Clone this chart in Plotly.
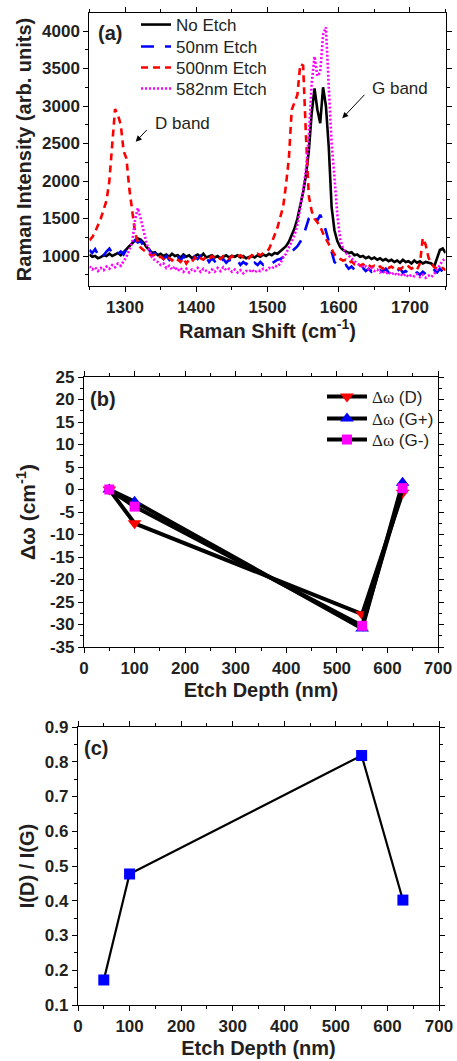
import plotly.graph_objects as go

W, H = 457, 1061

# ---------------- Panel (a): Raman spectra ----------------
raman_shift = list(range(1250, 1751, 4))  # cm^-1

no_etch = [
    1020, 990, 1000, 970, 985, 1010, 1000, 1030, 1000, 1020,
    1040, 1010, 1050, 1080, 1120, 1170, 1210, 1235, 1220, 1180,
    1120, 1080, 1040, 1050, 1010, 1030, 1000, 1020, 990, 1030,
    1000, 1010, 980, 1020, 990, 1010, 970, 1000, 1020, 990,
    1030, 980, 1000, 1010, 980, 1000, 970, 990, 1010, 980,
    1000, 990, 1010, 980, 1000, 970, 990, 1000, 980, 1010,
    990, 1020, 1000, 1030, 1010, 1040, 1030, 1060, 1090, 1130,
    1190, 1280, 1370, 1500, 1680, 1850, 2080, 2400, 2900, 3236,
    2950, 2770, 3250, 3000, 2450, 1650, 1340, 1200, 1120, 1080,
    1060, 1040, 1050, 1010, 1020, 990, 1000, 970, 990, 960,
    980, 950, 970, 940, 960, 930, 950, 920, 940, 910,
    950, 920, 930, 900, 940, 910, 930, 900, 920, 910,
    900, 860, 960, 1080, 1100, 1040,
]

etch_50nm = [
    1080, 1040, 1090, 1020, 1070, 1010, 1060, 1100, 1040, 1080,
    1030, 1060, 1020, 1090, 1130, 1160, 1210, 1180, 1200, 1120,
    1060, 1090, 1010, 1040, 980, 1020, 960, 1000, 950, 1010,
    960, 990, 940, 1000, 950, 980, 930, 990, 960, 1000,
    940, 980, 920, 970, 930, 980, 920, 960, 910, 950,
    930, 900, 940, 880, 920, 890, 930, 870, 910, 880,
    920, 880, 900, 870, 900, 930, 950, 960, 990, 1010,
    1040, 1060, 1090, 1130, 1190, 1260, 1380, 1500, 1540, 1560,
    1470, 1550, 1470, 1330, 1180, 1030, 920, 890, 870, 850,
    880, 830, 860, 820, 850, 810, 840, 800, 830, 790,
    820, 780, 810, 790, 830, 780, 810, 770, 800, 830,
    780, 800, 760, 790, 760, 780, 750, 790, 760, 800,
    770, 810, 780, 830, 790, 820,
]

etch_500nm = [
    1210, 1250, 1320, 1400, 1500, 1620, 1740, 2000, 2450, 2960,
    2880, 2750, 2400, 2300, 1900, 1580, 1320, 1180, 1110, 1080,
    1050, 1030, 1000, 1020, 980, 990, 960, 1000, 970, 940,
    980, 950, 920, 970, 900, 950, 920, 980, 940, 970,
    950, 990, 960, 1000, 970, 990, 960, 1000, 980, 960,
    1000, 970, 990, 1010, 980, 1000, 970, 1010, 1000, 1030,
    1010, 1040, 1060, 1090, 1180, 1270, 1380, 1520, 1660, 1950,
    2300, 2950, 3060, 3150, 3560, 3540, 2600, 1800, 1600, 1500,
    1450, 1390, 1300, 1230, 1140, 1070, 1020, 980, 960, 940,
    950, 910, 930, 890, 910, 870, 890, 860, 880, 850,
    870, 840, 860, 830, 870, 840, 860, 830, 850, 820,
    850, 830, 860, 830, 850, 820, 900, 1240, 1150, 980,
    900, 850, 830, 820, 840, 810,
]

etch_582nm = [
    860, 820, 850, 800, 840, 810, 860, 830, 880, 850,
    900, 870, 930, 990, 1080, 1180, 1480, 1640, 1500, 1320,
    1180, 1060, 980, 940, 920, 880, 900, 840, 870, 820,
    860, 800, 840, 790, 830, 780, 820, 800, 840, 790,
    830, 800, 780, 820, 790, 840, 800, 850, 810, 830,
    790, 820, 780, 810, 770, 800, 790, 820, 780, 810,
    800, 830, 810, 840, 830, 870, 860, 900, 980, 1030,
    1110, 1190, 1280, 1420, 1620, 1870, 2150, 2600, 3300, 3660,
    3400, 3450, 3950, 4050, 3250, 2500, 2050, 1550, 1230, 1100,
    1040, 1000, 970, 930, 900, 880, 850, 860, 820, 840,
    800, 820, 780, 800, 760, 790, 750, 780, 740, 770,
    730, 760, 720, 750, 730, 760, 720, 750, 710, 740,
    720, 760, 820, 870, 940, 970,
]

# ---------------- Panel (b): frequency shifts ----------------
etch_depth = [50, 100, 550, 630]  # nm
dw_D = [0, -7.5, -27.7, -0.7]
dw_Gplus = [0, -2.7, -30.9, 1.5]
dw_Gminus = [0, -3.8, -30.3, 0.3]
dw_ticks = [-35, -30, -25, -20, -15, -10, -5, 0, 5, 10, 15, 20, 25]

# ---------------- Panel (c): intensity ratio ----------------
id_over_ig = [0.172, 0.477, 0.818, 0.402]

FONT = "Liberation Sans"
SERIF = "Liberation Serif"
INK = "#231f20"


def px_x(p):
    return p / W


def px_y(p):
    return 1 - p / H


def axis(domain, rng, dtick, minor_dtick, anchor, title, standoff, title_size=20, **kw):
    d = dict(
        domain=domain, range=rng, anchor=anchor, dtick=dtick,
        showline=True, linecolor="black", linewidth=1.2, mirror="allticks",
        ticks="outside", ticklen=5, tickwidth=1.2, tickcolor="black",
        minor=dict(dtick=minor_dtick, ticks="outside", ticklen=3,
                   tickwidth=1, tickcolor="black"),
        showgrid=False, zeroline=False,
        tickfont=dict(family=FONT, size=17, color=INK, weight="bold"),
        title=dict(text=title, standoff=standoff,
                   font=dict(family=FONT, size=title_size, color=INK, weight="bold")),
    )
    d.update(kw)
    return d


def one_legend(left_px, row_px, size, itemwidth):
    return dict(x=px_x(left_px), y=px_y(row_px), xanchor="left", yanchor="middle",
                bgcolor="rgba(0,0,0,0)", borderwidth=0,
                font=dict(family=FONT, size=size, color=INK),
                itemwidth=itemwidth)


fig = go.Figure()

# (a)
fig.add_trace(go.Scatter(x=raman_shift, y=no_etch, name="No Etch", mode="lines",
                         line=dict(color="black", width=2.6), xaxis="x", yaxis="y",
                         legend="legend"))
fig.add_trace(go.Scatter(x=raman_shift, y=etch_50nm, name="50nm Etch", mode="lines",
                         line=dict(color="#0000ff", width=2.6, dash="13px,11px"),
                         xaxis="x", yaxis="y", legend="legend2"))
fig.add_trace(go.Scatter(x=raman_shift, y=etch_500nm, name="500nm Etch", mode="lines",
                         line=dict(color="#ff0000", width=2.6, dash="7px,5px"),
                         xaxis="x", yaxis="y", legend="legend3"))
fig.add_trace(go.Scatter(x=raman_shift, y=etch_582nm, name="582nm Etch", mode="lines",
                         line=dict(color="#ff00ff", width=2.6, dash="2px,2px"),
                         xaxis="x", yaxis="y", legend="legend4"))

# (b)
dw = f'<span style="font-family:{SERIF}">\u0394\u03c9</span>'
fig.add_trace(go.Scatter(x=etch_depth, y=dw_D, name=dw + " (D)", mode="lines+markers",
                         line=dict(color="black", width=4),
                         marker=dict(symbol="triangle-down", size=12, color="#ff0000"),
                         xaxis="x2", yaxis="y2", legend="legend5"))
fig.add_trace(go.Scatter(x=etch_depth, y=dw_Gplus, name=dw + " (G+)", mode="lines+markers",
                         line=dict(color="black", width=4),
                         marker=dict(symbol="triangle-up", size=12, color="#0000ff"),
                         xaxis="x2", yaxis="y2", legend="legend6"))
fig.add_trace(go.Scatter(x=etch_depth, y=dw_Gminus, name=dw + " (G-)", mode="lines+markers",
                         line=dict(color="black", width=4),
                         marker=dict(symbol="square", size=10, color="#ff00ff"),
                         xaxis="x2", yaxis="y2", legend="legend7"))

# (c)
fig.add_trace(go.Scatter(x=etch_depth, y=id_over_ig, name="I(D)/I(G)", mode="lines+markers",
                         line=dict(color="black", width=2.2),
                         marker=dict(symbol="square", size=11, color="#0000ff"),
                         xaxis="x3", yaxis="y3", showlegend=False))

layout = dict(
    width=W, height=H, template="none",
    margin=dict(l=0, r=0, t=0, b=0),
    paper_bgcolor="white", plot_bgcolor="white",
    font=dict(family=FONT, color=INK),
    xaxis=axis([px_x(89.4), px_x(445.6)], [1250, 1750], 100, 50, "y",
               "Raman Shift (cm<sup>-1</sup>)", 6),
    yaxis=axis([px_y(286), px_y(13)], [600, 4240], 500, 250, "x",
               "Raman Intensity (arb. units)", 5, tick0=0),
    xaxis2=axis([px_x(84), px_x(438)], [0, 700], 100, 50, "y2",
                "Etch Depth (nm)", 6),
    yaxis2=axis([px_y(647), px_y(377)], [-35, 25], None, 2.5, "x2",
                "\u0394\u03c9 (cm<sup>-1</sup>)", 8, title_size=21,
                tickmode="array", tickvals=dw_ticks,
                ticktext=[str(v) for v in dw_ticks]),
    xaxis3=axis([px_x(78), px_x(439)], [0, 700], 100, 50, "y3",
                "Etch Depth (nm)", 6),
    yaxis3=axis([px_y(1005), px_y(727)], [0.1, 0.9], 0.1, 0.05, "x3",
                "I(D) / I(G)", 4),
    legend=one_legend(136, 25, 17, 30),
    legend2=one_legend(136, 47, 17, 30),
    legend3=one_legend(136, 68, 17, 30),
    legend4=one_legend(136, 89, 17, 30),
    legend5=one_legend(322, 397, 17, 40),
    legend6=one_legend(322, 419, 17, 40),
    legend7=one_legend(322, 440, 17, 40),
    showlegend=True,
)
fig.update_layout(**layout)

panel_font = dict(family=FONT, size=20, color=INK, weight="bold")
band_font = dict(family=FONT, size=17, color=INK)
for label, cx, cy in [("(a)", 110, 33), ("(b)", 103, 399), ("(c)", 96, 748)]:
    fig.add_annotation(text=label, x=px_x(cx), y=px_y(cy), xref="paper", yref="paper",
                       xanchor="center", yanchor="middle", showarrow=False, font=panel_font)

# band labels with arrows (arrow tail at the left-middle of each label)
fig.add_annotation(text="D band", x=1315, y=2524, ax=1339.3, ay=2769,
                   xref="x", yref="y", axref="x", ayref="y",
                   xanchor="left", yanchor="middle", font=band_font,
                   showarrow=True, arrowhead=2, arrowsize=1.2, arrowwidth=1,
                   arrowcolor="black", startstandoff=9)
fig.add_annotation(text="G band", x=1605, y=2836, ax=1643.8, ay=3227,
                   xref="x", yref="y", axref="x", ayref="y",
                   xanchor="left", yanchor="middle", font=band_font,
                   showarrow=True, arrowhead=2, arrowsize=1.2, arrowwidth=1,
                   arrowcolor="black", startstandoff=8)

fig.write_html("out.html")
